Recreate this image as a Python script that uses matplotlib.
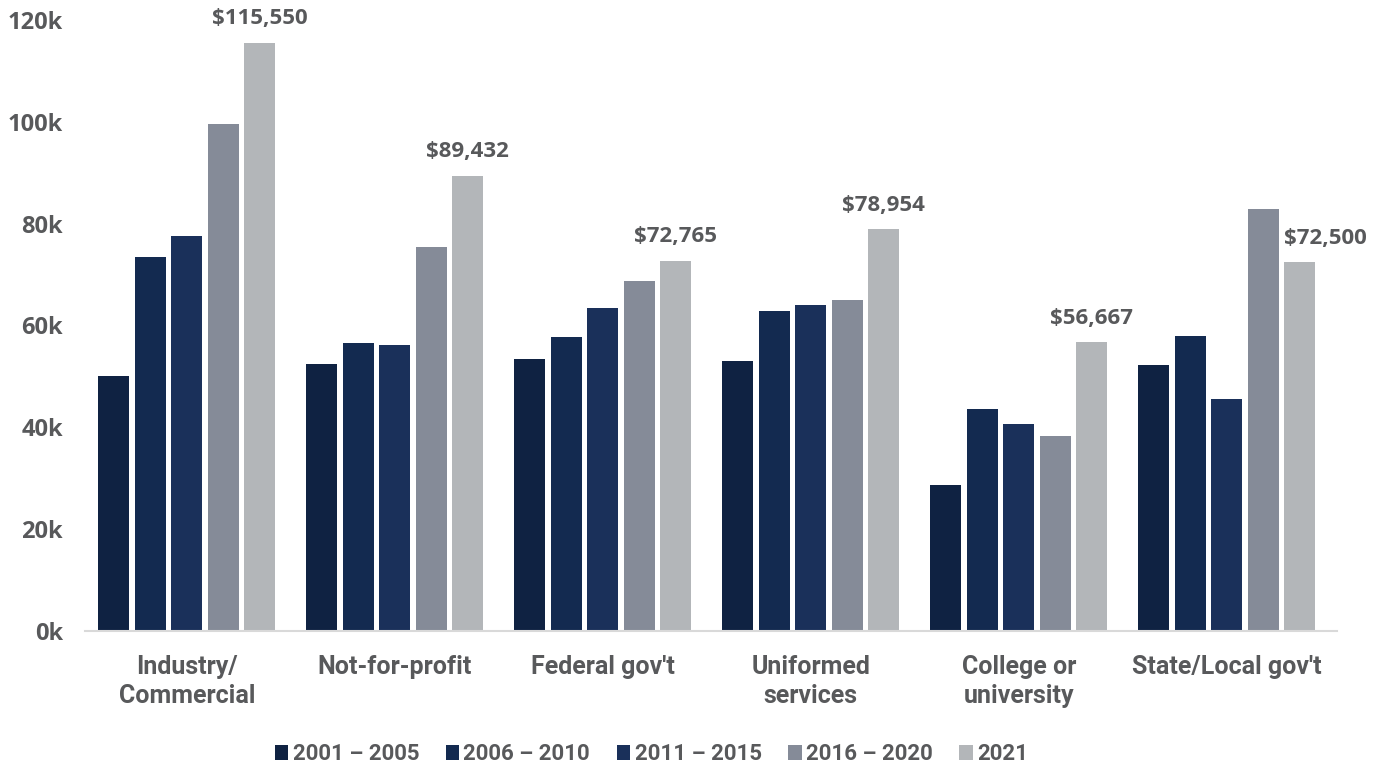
import numpy as np
import matplotlib.pyplot as plt

plt.rcParams['font.family'] = ['Open Sans', 'DejaVu Sans']
plt.rcParams['font.weight'] = 'bold'
narrow = ['Roboto', 'DejaVu Sans']

categories = ['Industry/\nCommercial', 'Not-for-profit', "Federal gov't",
              'Uniformed\nservices', 'College or\nuniversity', "State/Local gov't"]
periods = ['2001 – 2005', '2006 – 2010', '2011 – 2015', '2016 – 2020', '2021']

# median salary by employer type, one list per period
s2001 = [50000, 52500, 53400, 53000, 28700, 52300]
s2006 = [73500, 56600, 57800, 62900, 43600, 58000]
s2011 = [77600, 56200, 63500, 64000, 40700, 45600]
s2016 = [99600, 75400, 68800, 65000, 38300, 82900]
s2021 = [115550, 89432, 72765, 78954, 56667, 72500]
series = [s2001, s2006, s2011, s2016, s2021]

colors = ['#0f2242', '#132a50', '#1a305a', '#858b98', '#b3b6b9']
text_col = '#58595b'

fig = plt.figure(figsize=(13.92, 7.73), dpi=100)
ax = fig.add_axes([85 / 1392, 1 - 631 / 773, (1337 - 85) / 1392, (631 - 20) / 773])

x = np.arange(len(categories))
width = 0.149
step = 0.1755
for i, (vals, col, lab) in enumerate(zip(series, colors, periods)):
    ax.bar(x + (i - 2) * step, vals, width, color=col, label=lab)

# value labels on the latest period only
for xi, v in zip(x, s2021):
    xpos, ha = xi + 2 * step, 'center'
    if xi == x[-1]:
        xpos, ha = xi + 2 * step - width / 2, 'left'
    ax.text(xpos, v + 2600, f'${v:,.0f}', ha=ha, va='bottom',
            fontsize=16, fontweight='bold', color=text_col, clip_on=False)

ax.set_xlim(-0.49, 5.53)
ax.set_ylim(0, 120000)
ticks = np.arange(0, 120001, 20000)
ax.set_yticks(ticks)
ax.set_yticklabels([f'{int(t / 1000)}k' for t in ticks])
ax.set_xticks(x)
ax.set_xticklabels(categories, linespacing=1.3)

for s in ['top', 'right', 'left']:
    ax.spines[s].set_visible(False)
ax.spines['bottom'].set_color('#d9d9d9')
ax.spines['bottom'].set_linewidth(1.5)
ax.tick_params(axis='both', length=0, colors=text_col)
ax.tick_params(axis='y', pad=16, labelsize=17)
ax.tick_params(axis='x', pad=17, labelsize=18)
for t in ax.get_yticklabels():
    t.set_fontweight('bold')
    t.set_color(text_col)
for t in ax.get_xticklabels():
    t.set_fontweight('bold')
    t.set_family(narrow)
    t.set_color(text_col)

leg = fig.legend(loc='lower center', ncol=5, bbox_to_anchor=(0.468, -0.016), frameon=False,
                 prop={'family': narrow, 'weight': 'bold', 'size': 16},
                 handlelength=0.6, handleheight=0.6, handletextpad=0.2,
                 columnspacing=1.2)
for t in leg.get_texts():
    t.set_color(text_col)

fig.savefig('out.png', dpi=100)
